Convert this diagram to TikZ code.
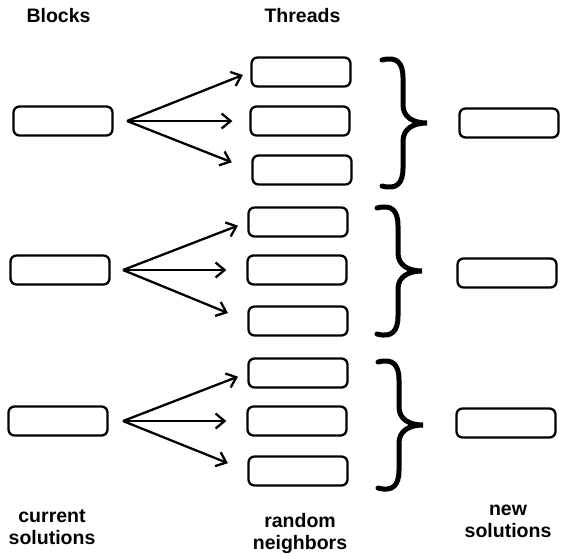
\documentclass[tikz,border=0pt]{standalone}
\usepackage{fontspec}
\setmainfont{Liberation Sans}
\usetikzlibrary{arrows.meta}
\begin{document}
\begin{tikzpicture}[x=1pt,y=-1pt,
  box/.style={draw, line width=2.3pt, rounded corners=6pt, minimum width=99pt, minimum height=29pt, inner sep=0pt},
  lbl/.style={font=\bfseries\fontsize{19.5}{22}\selectfont, align=center, inner sep=0pt},
  arr/.style={line width=2.3pt, -{Straight Barb[length=9pt,width=15pt,line width=2.3pt]}},
  bracestroke/.style={line width=5pt, line cap=round}
]
\useasboundingbox (0,0) rectangle (561,558);

% headers
\node[lbl] (hblocks) at (58.5,16) {Blocks};
\node[lbl] (hthreads) at (302.5,16) {Threads};

% row 1
\node[box] (l1) at (63,121) {};
\node[box] (t11) at (301,72) {};
\node[box] (t12) at (300,121) {};
\node[box] (t13) at (302,170) {};
\node[box] (r1) at (509,123) {};
\coordinate (o1) at (127,121);
\draw[arr, shorten >=8pt] (o1) -- (t11.west);
\draw[arr, shorten >=17pt] (o1) -- (t12.west);
\draw[arr, shorten >=21pt] (o1) -- (t13.west);

% row 2
\node[box] (l2) at (60,270) {};
\node[box] (t21) at (298,222) {};
\node[box] (t22) at (297,270) {};
\node[box] (t23) at (298,321) {};
\node[box] (r2) at (507,273) {};
\coordinate (o2) at (123,270);
\draw[arr, shorten >=10pt] (o2) -- (t21.west);
\draw[arr, shorten >=20pt] (o2) -- (t22.west);
\draw[arr, shorten >=21pt] (o2) -- (t23.west);

% row 3
\node[box] (l3) at (58,421) {};
\node[box] (t31) at (298,373) {};
\node[box] (t32) at (297,421) {};
\node[box] (t33) at (298,471) {};
\node[box] (r3) at (506,423) {};
\coordinate (o3) at (123,421);
\draw[arr, shorten >=10pt] (o3) -- (t31.west);
\draw[arr, shorten >=20pt] (o3) -- (t32.west);
\draw[arr, shorten >=21pt] (o3) -- (t33.west);

% braces
\foreach \tx/\ty in {427/123, 422/271, 423/425}{
  \draw[bracestroke, shift={(\tx,\ty)}]
    (-45,-63) .. controls (-30,-67) and (-24,-60) .. (-24,-45)
    -- (-24,-18) .. controls (-24,-6) and (-14,0) .. (0,0)
    .. controls (-14,0) and (-24,6) .. (-24,18)
    -- (-24,45) .. controls (-24,60) and (-30,67) .. (-45,63);
}

% bottom labels
\node[lbl] (bcur) at (52,527.5) {current\\solutions};
\node[lbl] (brand) at (300,533.5) {random\\neighbors};
\node[lbl] (bnew) at (508,521.5) {new\\solutions};
\end{tikzpicture}
\end{document}
